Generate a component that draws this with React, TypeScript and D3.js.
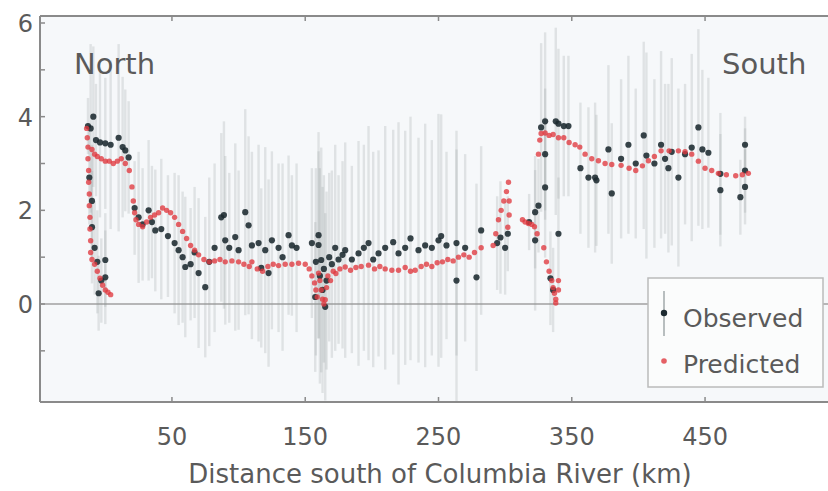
import React from "react";
import * as d3 from "d3";

// observed along-shore values (km south of the river, value, half-width of the bar)
const obsKm = [
  -13, -11, -9, -7, -4, 0, 4, 10, 13, 15, 17.5,
  -12, -10, -10, -8, -6, 0, 0, -5, -3,
  22, 25, 28, 32.5, 35, 37.5, 42, 47, 52, 55, 58, 60, 64, 67, 70, 75, 78, 82, 87, 89,
  90, 93, 97.5, 100, 105, 107.5, 110, 115, 117, 120, 122.5, 125, 130, 133, 137.5, 140, 143.5,
  155, 157.5, 158, 160, 160, 161, 162, 163, 164, 165, 166, 168, 170, 172.5, 175, 178, 180,
  185, 190, 194, 197.5, 201, 205, 210, 216, 220, 225, 229, 235, 240, 245, 250, 252, 256,
  263.5, 263.5, 270, 278.5, 282,
  294, 296.5, 300, 302, 318, 322.5, 322.5, 325, 327, 330, 330, 330, 334, 336, 338, 340, 340, 344, 347.5,
  356.5, 362.5, 367.5, 368.5, 377.5, 380, 387, 392.5, 398, 404, 406, 412, 417, 420, 422.5,
  425, 430, 435, 440, 445, 448, 452.5, 461.5, 461.5, 476.5, 480, 480, 480,
];
const obsVal = [
  3.8, 3.75, 4.0, 3.5, 3.45, 3.43, 3.4, 3.55, 3.35, 3.28, 3.13,
  2.7, 2.2, 1.64, 1.2, 0.9, 0.94, 0.57, 0.23, 0.5,
  2.05, 1.85, 1.7, 2.0, 1.75, 1.57, 1.6, 1.45, 1.3, 1.15, 1.0, 0.79, 0.85, 1.1, 0.66, 0.36, 0.9, 1.2, 1.85, 1.9,
  1.36, 1.2, 1.43, 1.15, 1.96, 1.68, 1.25, 1.3, 0.77, 1.15, 0.66, 1.36, 1.2, 1.0, 1.47, 1.25, 1.2,
  1.3, 0.15, 0.9, 1.47, 1.26, 0.6, 0.94, 0.3, 0.75, -0.06, 0.5, 1.0, 0.85, 1.2, 0.95, 1.05, 1.15,
  0.95, 1.08, 1.2, 1.3, 0.95, 1.08, 1.2, 1.32, 1.08, 1.2, 1.4, 1.15, 1.25, 1.2, 1.36, 1.45, 1.25,
  1.3, 0.5, 1.2, 0.57, 1.57,
  1.3, 1.42, 1.2, 1.5, 1.75, 1.36, 1.96, 2.1, 3.77, 3.9, 3.2, 2.49, 0.55, 0.3, 3.9, 3.85, 1.5, 3.8, 3.8,
  2.9, 2.7, 2.7, 2.64, 3.3, 2.36, 3.1, 3.4, 3.0, 3.6, 3.17, 3.0, 3.4, 3.1, 2.9,
  3.25, 2.7, 3.2, 3.34, 3.77, 3.3, 3.23, 2.78, 2.43, 2.28, 2.85, 3.4, 2.5,
];
const obsErr = [
  0.6, 1.8, 1.5, 1.2, 1.6, 1.4, 1.8, 2.0, 1.5, 1.3, 1.2,
  1.0, 1.2, 1.2, 1.0, 1.1, 1.0, 1.0, 0.8, 0.9,
  1.0, 1.4, 1.2, 1.5, 1.2, 1.3, 1.5, 1.3, 1.5, 1.6, 1.4, 1.5, 1.2, 1.4, 1.6, 1.5, 1.8, 1.8, 1.8, 2.0,
  1.8, 1.6, 2.0, 1.7, 2.2, 1.9, 2.0, 2.1, 1.7, 2.2, 2.0, 1.9, 1.8, 2.0, 1.7, 1.5, 1.8,
  1.6, 1.6, 2.0, 2.2, 2.0, 2.3, 2.4, 2.2, 2.0, 2.0, 1.9, 1.8, 2.0, 2.2, 1.8, 2.0, 2.3,
  2.0, 2.4, 2.2, 2.5, 2.3, 2.2, 2.6, 2.4, 2.8, 2.5, 2.6, 2.4, 2.6, 2.3, 2.7, 2.6, 2.0,
  2.4, 2.8, 2.0, 2.0, 1.8,
  1.0, 1.2, 1.0, 0.8, 0.6, 1.5, 1.2, 1.0, 1.8, 1.9, 1.4, 1.5, 1.0, 0.9, 2.0, 1.6, 1.2, 1.5, 1.5,
  1.4, 1.5, 1.6, 1.4, 1.8, 1.5, 1.7, 1.9, 1.6, 2.0, 2.2, 1.8, 2.0, 1.6, 1.8,
  2.0, 1.9, 1.5, 2.0, 2.1, 1.7, 1.6, 1.3, 1.2, 0.8, 0.9, 0.6, 0.8,
];

// model predictions
const predKm = [
  -14, -13.5, -13, -13, -12.5, -12.5, -12, -12, -11.5, -11.5, -11, -11, -10, -8, -6, -4, -2, 0, 2, 4,
  -10, -8, -6, -3, 0, 3, 6, 9, 12, 15, 18, 20, 21, 22, 23, 25, 28, 31, 34, 37, 40, 43, 46, 49, 52,
  55, 58, 61, 64, 67, 70, 74, 78, 82, 86, 90, 95, 100, 104, 108, 110, 114, 118, 122, 126, 130, 135, 140, 145,
  150, 153, 155, 157, 158, 159, 160, 161, 162, 163, 164, 165, 166, 167, 169, 171, 173, 176, 180, 184, 188,
  192, 197.5, 202, 206, 210, 215, 220, 225, 229, 232.5, 237, 241, 245, 249, 253, 257, 261, 265, 269, 273, 277, 282,
  291, 293, 295, 297, 299, 301, 302.5, 303, 303, 302,
  313, 315, 317.5, 320, 322, 324,
  329, 331, 333, 335, 336, 337, 338, 338, 340, 340,
  325, 326, 327, 330, 333, 336, 340, 344, 348, 352.5, 356, 360, 365, 370, 375, 380, 387, 393, 398, 403,
  407.5, 412, 417, 423, 430, 435, 440, 445, 450, 455, 460, 466, 473, 478, 482.5,
];
const predVal = [
  3.75, 3.55, 3.35, 3.1, 2.85, 2.6, 2.35, 2.1, 1.85, 1.6, 1.35, 1.1, 0.95, 0.85, 0.7, 0.55, 0.4, 0.3, 0.25, 0.2,
  3.3, 3.2, 3.15, 3.1, 3.05, 3.05, 3.0, 3.05, 3.1, 3.0, 2.85, 2.5, 2.2, 1.95, 1.8, 1.7, 1.65, 1.75, 1.85, 1.9, 1.95, 2.05, 2.0, 1.95, 1.85,
  1.7, 1.55, 1.4, 1.25, 1.15, 1.05, 0.95, 0.9, 0.92, 0.95, 0.9, 0.92, 0.9, 0.85, 0.8, 0.9, 0.75, 0.7, 0.8, 0.85, 0.82, 0.85, 0.85, 0.87,
  0.85, 0.75, 0.6, 0.45, 0.3, 0.15, 0.66, 0.5, 0.3, 0.1, 0.0, 0.09, 0.35, 0.6, 0.5, 0.7, 0.65, 0.75, 0.79, 0.72, 0.78,
  0.8, 0.83, 0.75, 0.8, 0.75, 0.72, 0.72, 0.78, 0.7, 0.72, 0.8, 0.85, 0.8, 0.88, 0.9, 0.95, 0.92, 1.0, 1.05, 1.0, 1.1, 1.2,
  1.25, 1.5, 1.8, 2.0, 2.2, 2.4, 2.6, 2.2, 1.9, 1.64,
  1.8, 1.75, 1.72, 1.7, 1.65, 1.5,
  1.2, 0.9, 0.7, 0.5, 0.35, 0.23, 0.1, 0.02, 0.3, 0.5,
  3.2, 3.5, 3.64, 3.65, 3.6, 3.62, 3.55, 3.55, 3.45, 3.4, 3.35, 3.2, 3.1, 3.06, 3.0, 2.98, 2.96, 2.9, 2.85, 2.95,
  3.06, 3.15, 3.27, 3.27, 3.27, 3.25, 3.2, 3.05, 2.9, 2.85, 2.79, 2.76, 2.74, 2.76, 2.79,
];

const xTicks = [50, 150, 250, 350, 450];
const yTicks = [0, 2, 4, 6];
const yMinor = [-1, 1, 3, 5];

const W = 828;
const H = 491;
const m = { left: 40, top: 16, right: 829, bottom: 402 };

const gray = "#5a5a5a";
const font = "DejaVu Sans, sans-serif";

export default function App() {
  const x = d3.scaleLinear().domain([-49, 543]).range([m.left, m.right]);
  const y = d3.scaleLinear().domain([0, 6]).range([304, 23]);

  const obs = obsKm.map((k, i) => ({ k, v: obsVal[i], e: obsErr[i] }));
  const pred = predKm.map((k, i) => ({ k, v: predVal[i] }));

  return (
    <svg width={W} height={H} style={{ position: "absolute", left: 0, top: 0, background: "#fff" }}>
      <defs>
        <clipPath id="plot">
          <rect x={m.left} y={m.top} width={m.right - m.left} height={m.bottom - m.top} />
        </clipPath>
      </defs>
      <rect x={m.left} y={m.top} width={m.right - m.left} height={m.bottom - m.top} fill="#f6f8fa" />

      <g clipPath="url(#plot)">
        <line x1={m.left} x2={m.right} y1={y(0)} y2={y(0)} stroke="#a0a0a0" strokeWidth={1.5} />
        {obs.map((d, i) => (
          <line
            key={"e" + i}
            x1={x(d.k)}
            x2={x(d.k)}
            y1={y(d.v - d.e)}
            y2={y(d.v + d.e)}
            stroke="#8c9496"
            strokeOpacity={0.22}
            strokeWidth={2.4}
          />
        ))}
        {obs.map((d, i) => (
          <circle key={"o" + i} cx={x(d.k)} cy={y(d.v)} r={3.1} fill="#1c2a30" fillOpacity={0.88} />
        ))}
        {pred.map((d, i) => (
          <circle key={"p" + i} cx={x(d.k)} cy={y(d.v)} r={2.7} fill="#e0383f" fillOpacity={0.78} />
        ))}
      </g>

      {/* frame */}
      <g fill="none" stroke="#8a8a8a" strokeWidth={2}>
        <line x1={m.left} x2={m.right} y1={m.top} y2={m.top} />
        <line x1={m.left} x2={m.right} y1={m.bottom} y2={m.bottom} />
        <line x1={m.left} x2={m.left} y1={m.top} y2={m.bottom} />
      </g>
      {xTicks.map((t) => (
        <g key={"xt" + t} stroke="#8a8a8a" strokeWidth={1.5}>
          <line x1={x(t)} x2={x(t)} y1={m.bottom} y2={m.bottom - 5} />
          <line x1={x(t)} x2={x(t)} y1={m.top} y2={m.top + 5} />
        </g>
      ))}
      {[...yTicks, ...yMinor].map((t) => (
        <line key={"yt" + t} x1={m.left} x2={m.left + 5} y1={y(t)} y2={y(t)} stroke="#8a8a8a" strokeWidth={1.5} />
      ))}

      {xTicks.map((t) => (
        <text key={"xl" + t} x={x(t)} y={445} textAnchor="middle" fontFamily={font} fontSize={24} fill={gray}>
          {t}
        </text>
      ))}
      {yTicks.map((t) => (
        <text key={"yl" + t} x={33} y={y(t) + 9} textAnchor="end" fontFamily={font} fontSize={24} fill={gray}>
          {t}
        </text>
      ))}
      <text x={440} y={483} textAnchor="middle" fontFamily={font} fontSize={26} fill={gray}>
        Distance south of Columbia River (km)
      </text>

      <text x={74} y={74} fontFamily={font} fontSize={29} fill={gray}>North</text>
      <text x={722} y={74} fontFamily={font} fontSize={29} fill={gray}>South</text>

      {/* legend */}
      <g>
        <rect x={648} y={278} width={175} height={109} fill="#fbfcfc" stroke="#bbb" strokeWidth={1.5} />
        <line x1={664} x2={664} y1={291} y2={336} stroke="#8c9496" strokeOpacity={0.6} strokeWidth={2} />
        <circle cx={664} cy={313} r={3.2} fill="#1c2a30" />
        <circle cx={664} cy={361} r={2.8} fill="#e0383f" fillOpacity={0.8} />
        <text x={683} y={327} fontFamily={font} fontSize={25} fill={gray}>Observed</text>
        <text x={683} y={373} fontFamily={font} fontSize={25} fill={gray}>Predicted</text>
      </g>
    </svg>
  );
}
